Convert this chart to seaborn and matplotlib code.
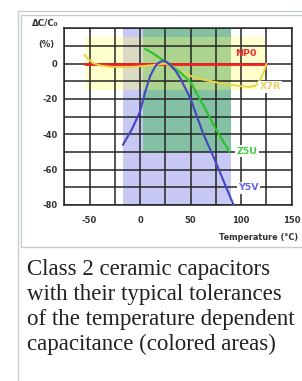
import matplotlib
matplotlib.use("Agg")
import matplotlib.pyplot as plt
from matplotlib.lines import Line2D
import seaborn as sns
import pandas as pd

# ---------------- data ----------------
np0_t = [-55, 125]
np0_v = [0, 0]

x7r_t = [-55, -52, -47, -40, -30, -20, -10, 0, 10, 20, 25, 35, 50, 62, 75, 88, 100, 108, 114, 119, 123, 125]
x7r_v = [5, 3, 0.5, -1, -1.8, -2, -2, -1.5, -1, -0.3, 0, -3, -7, -9, -10.5, -11.8, -12.8, -13.2, -12.5, -9, -4, 0]

z5u_t = [5, 10, 15, 20, 25, 32, 40, 50, 62, 75, 88.5]
z5u_v = [8.3, 6.8, 5, 3, 1.1, -1.8, -5, -10.6, -23, -37, -50]

y5v_t = [-17, -8, 0, 5, 10, 14, 17, 21, 24, 27, 30, 35, 40, 50, 62, 75, 92.5]
y5v_v = [-46, -37, -27, -16, -7, -2.5, 0, 1.3, 1.5, 0.8, -1, -4, -8.5, -20, -39, -56, -80]

# tolerance areas: name, temperature range, tolerance range
area_names = ["Y5V", "Z5U", "X7R"]
area_tmin = [-17, 3, -55]
area_tmax = [90, 90, 125]
area_lo = [-85, -50, -15]
area_hi = [25, 25, 15]

label_names = ["NP0", "X7R", "Z5U", "Y5V"]
label_t = [105, 128.5, 106, 107]
label_v = [6, -13.2, -49.5, -70.3]

x_ticks = [-75, -50, -25, 0, 25, 50, 75, 100, 125, 150]
x_ticklabels = ["", "-50", "", "0", "", "50", "", "100", "", "150"]
y_ticks = [-80, -70, -60, -50, -40, -30, -20, -10, 0, 10, 20]
y_ticklabels = ["-80", "", "-60", "", "-40", "", "-20", "", "0", "", ""]

caption_lines = ["Class 2 ceramic capacitors",
                 "with their typical tolerances",
                 "of the temperature dependent",
                 "capacitance (colored areas)"]

# ---------------- style ----------------
sns.set_style("white")
plt.rcParams['font.family'] = ['DejaVu Sans']

W, H = 302, 381
fig = plt.figure(figsize=(W / 100, H / 100), dpi=100)
fig.patch.set_facecolor("white")

def fx(x):
    return x / W

def fy(y):
    return 1 - y / H

L, R, T, B = 64.3, 291.7, 28.3, 205.0
ax = fig.add_axes([fx(L), fy(B), fx(R) - fx(L), fy(T) - fy(B)])
ax.set_xlim(-75, 150)
ax.set_ylim(-80, 20)
ax.set_facecolor("white")

area_colors = {"Y5V": ((60/255, 60/255, 220/255), 0.28),
               "Z5U": ((70/255, 185/255, 90/255), 0.52),
               "X7R": ((1.0, 1.0, 100/255), 0.33)}
for n, t0, t1, lo, hi in zip(area_names, area_tmin, area_tmax, area_lo, area_hi):
    c, a = area_colors[n]
    ax.fill_between([t0, t1], [lo, lo], [hi, hi], color=c, alpha=a, lw=0, zorder=1)

# grid
ax.set_xticks(x_ticks)
ax.set_xticklabels(x_ticklabels)
ax.set_yticks(y_ticks)
ax.set_yticklabels(y_ticklabels)
ax.grid(True, color="#262626", lw=1.1, zorder=2)
ax.set_axisbelow(False)
for sp in ax.spines.values():
    sp.set_color("#262626")
    sp.set_linewidth(1.1)
    sp.set_zorder(3)
ax.tick_params(axis="both", length=0, labelsize=6, labelcolor="#333333")
ax.tick_params(axis="x", pad=8)
ax.tick_params(axis="y", pad=5)
for lab in ax.get_xticklabels() + ax.get_yticklabels():
    lab.set_fontweight("bold")

# curves
curves = [
    (np0_t, np0_v, "#EE2020", 2.0),
    (x7r_t, x7r_v, "#E8D44A", 1.4),
    (z5u_t, z5u_v, "#2EC22E", 1.6),
    (y5v_t, y5v_v, "#4646C4", 1.5),
]
for t, v, col, lw in curves:
    df = pd.DataFrame({"t": t, "v": v})
    sns.lineplot(data=df, x="t", y="v", ax=ax, color=col, lw=lw, zorder=4,
                 sort=False, estimator=None)
ax.set_xlabel("")
ax.set_ylabel("")

label_colors = ["#F03030", "#EFD060", "#44CC44", "#6464EC"]
for i, (n, t, v, col) in enumerate(zip(label_names, label_t, label_v, label_colors)):
    kw = {}
    if i > 0:
        kw["bbox"] = dict(boxstyle="square,pad=0.15", fc="white", ec="none")
    ax.text(t, v, n, color=col, fontsize=6.8, fontweight="bold",
            ha="center", va="center", zorder=5, **kw)

# axis titles
fig.text(fx(45), fy(22.5), "ΔC/C₀", fontsize=6.3, fontweight="bold",
         color="#333333", ha="center", va="center")
fig.text(fx(46), fy(44), "(%)", fontsize=6, fontweight="bold",
         color="#333333", ha="center", va="center")
fig.text(fx(219), fy(238), "Temperature (°C)", fontsize=5.9, fontweight="bold",
         color="#333333", ha="left", va="center")

# thumbnail frame
frame = "#C8CCD1"
fig.add_artist(Line2D([fx(17.5), fx(17.5)], [fy(11), fy(381)], color=frame, lw=1.0))
fig.add_artist(Line2D([fx(17.5), fx(302)], [fy(11), fy(11)], color=frame, lw=1.0))
fig.add_artist(Line2D([fx(20.5), fx(20.5)], [fy(14.5), fy(247)], color=frame, lw=1.0))
fig.add_artist(Line2D([fx(20.5), fx(302)], [fy(14.5), fy(14.5)], color=frame, lw=1.0))
fig.add_artist(Line2D([fx(20.5), fx(302)], [fy(247), fy(247)], color=frame, lw=1.0))

# caption
for i, line in enumerate(caption_lines):
    fig.text(fx(27), fy(275 + 25 * i), line, fontsize=16.5,
             family="Liberation Serif", color="#202122", ha="left", va="baseline")

fig.savefig("out.png", dpi=100, facecolor="white")
